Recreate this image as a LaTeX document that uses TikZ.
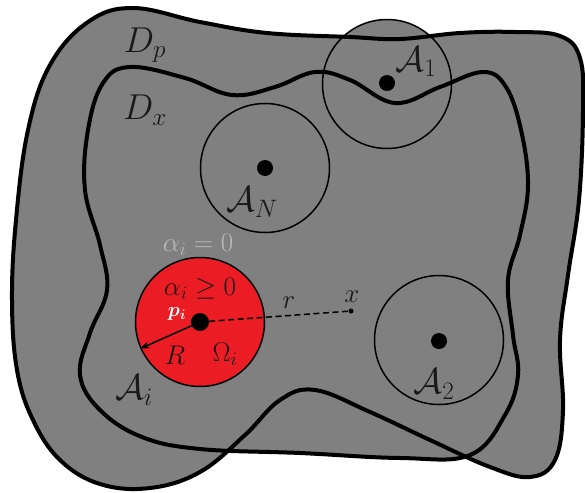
\RequirePackage{fix-cm}
\documentclass[tikz,border=0pt]{standalone}
\usepackage{amsmath,amssymb}
\usetikzlibrary{arrows.meta}
\definecolor{bg}{RGB}{128,128,128}
\definecolor{redfill}{RGB}{236,28,36}
\definecolor{ink}{RGB}{25,25,25}
\definecolor{lightlab}{RGB}{185,185,185}
\begin{document}
\begin{tikzpicture}[x=1pt,y=-1pt,
  region/.style={line width=4pt,draw=black,line join=round},
  ring/.style={circle,draw=black,line width=1.5pt,minimum size=129pt,inner sep=0pt},
  bigdot/.style={circle,fill=black,minimum size=16pt,inner sep=0pt},
  tinydot/.style={circle,fill=black,minimum size=5pt,inner sep=0pt},
  biglab/.style={text=ink,font=\fontsize{36}{40}\selectfont,inner sep=0pt},
  smalllab/.style={text=ink,font=\fontsize{27}{30}\selectfont,inner sep=0pt}]
\useasboundingbox (0,0) rectangle (585,492);
% outer region D_p
\def\outer{plot[smooth cycle,tension=0.65] coordinates {
 (133,8) (200,22) (267,33) (350,37) (400,39) (460,33) (515,32)
 (560,36) (580,58) (583,110) (579,200) (568,275) (560,340) (563,410)
 (555,460) (530,477) (490,467) (430,440) (370,412) (315,390)
 (280,400) (245,435) (200,472) (150,488) (100,484) (60,460)
 (33,420) (17,370) (12,300) (16,220) (28,130) (50,65) (88,22)}}
% inner region D_x
\def\inner{plot[smooth cycle,tension=0.65] coordinates {
 (130,67) (185,78) (232,95) (275,87) (315,72) (350,80) (395,103)
 (440,87) (483,72) (506,87) (521,130) (528,185) (520,235) (508,280)
 (513,335) (518,375) (505,415) (470,455) (400,458) (300,453)
 (200,449) (142,437) (100,410) (80,375) (90,333) (107,290)
 (100,245) (85,190) (88,130) (103,83)}}
\fill[bg] \outer;
\fill[bg] \inner;
\node[ring,fill=bg,draw=none] (C1fill) at (387,84) {};
\draw[region] \outer;
\draw[region] \inner;
% circles
\node[ring] (C1) at (387,84) {};
\node[ring] (CN) at (265,168) {};
\node[ring] (C2) at (439,340) {};
\node[ring,fill=redfill] (Om) at (200,322) {};
% dots
\node[bigdot] (d1) at (387,83) {};
\node[bigdot] (dN) at (265,168) {};
\node[bigdot] (d2) at (439,341) {};
\node[bigdot,minimum size=18pt] (pi) at (200,322) {};
\node[tinydot] (xd) at (351,311) {};
% connectors
\draw[line width=1.5pt,dash pattern=on 6pt off 3.5pt] (pi) -- (xd);
\draw[line width=1.5pt,-{Stealth[length=9pt,width=7pt]}] (pi.center) -- (Om.204);
% labels
\node[biglab] (Dp) at (145,45) {$D_p$};
\node[biglab] (Dx) at (145,110) {$D_x$};
\node[biglab] (A1) at (416,62) {$\mathcal{A}_1$};
\node[biglab] (AN) at (252,202) {$\mathcal{A}_N$};
\node[biglab] (A2) at (434,384) {$\mathcal{A}_2$};
\node[biglab] (Ai) at (134,390) {$\mathcal{A}_i$};
\node[smalllab,text=lightlab] (a0) at (198,245) {$\alpha_i=0$};
\node[smalllab] (ag) at (200,289) {$\alpha_i\geq 0$};
\node[smalllab,text=white,font=\fontsize{20}{22}\selectfont] (pl) at (177,314) {$\boldsymbol{p_i}$};
\node[smalllab] (Rl) at (175,355) {$R$};
\node[smalllab] (Ol) at (225,354) {$\Omega_i$};
\node[smalllab] (rl) at (289,303) {$r$};
\node[smalllab] (xl) at (352,297) {$x$};
\end{tikzpicture}
\end{document}
